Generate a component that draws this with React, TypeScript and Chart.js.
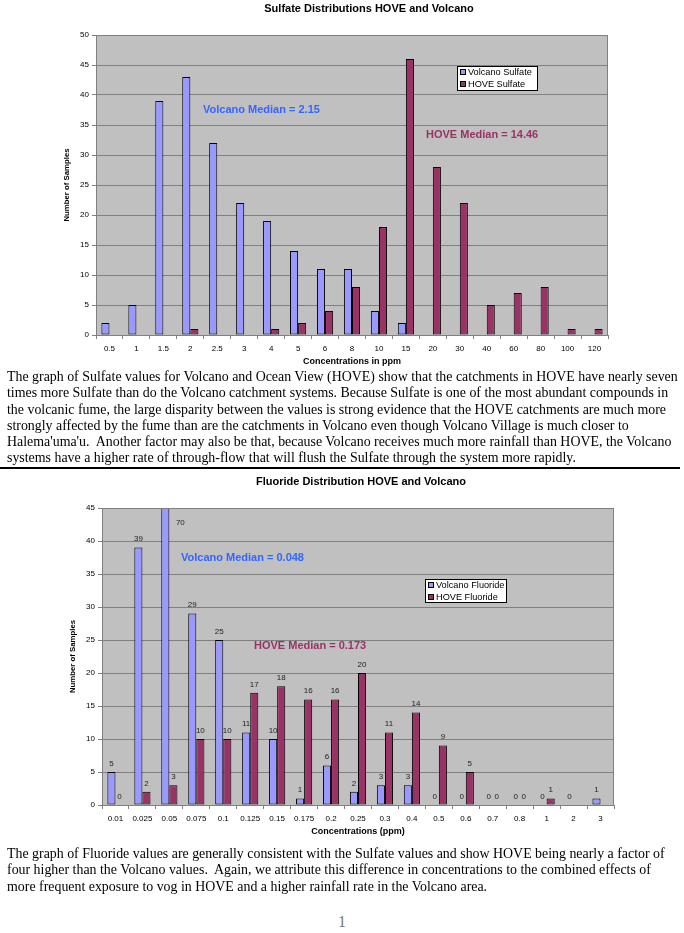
import React, { useEffect, useRef } from "react";
import { Chart, registerables } from "chart.js";
Chart.register(...registerables);

// ---------- data ----------
const sulfateCategories = ["0.5", "1", "1.5", "2", "2.5", "3", "4", "5", "6", "8", "10", "15", "20", "30", "40", "60", "80", "100", "120"];
const sulfateVolcano = [2, 5, 39, 43, 32, 22, 19, 14, 11, 11, 4, 2, 0, 0, 0, 0, 0, 0, 0];
const sulfateHove = [0, 0, 0, 1, 0, 0, 1, 2, 4, 8, 18, 46, 28, 22, 5, 7, 8, 1, 1];
const sulfateYMax = 50;

const fluorideCategories = ["0.01", "0.025", "0.05", "0.075", "0.1", "0.125", "0.15", "0.175", "0.2", "0.25", "0.3", "0.4", "0.5", "0.6", "0.7", "0.8", "1", "2", "3"];
const fluorideVolcano = [5, 39, 70, 29, 25, 11, 10, 1, 6, 2, 3, 3, 0, 0, 0, 0, 0, 0, 1];
const fluorideHove = [0, 2, 3, 10, 10, 17, 18, 16, 16, 20, 11, 14, 9, 5, 0, 0, 1, null, null];
const fluorideYMax = 45;

const yStep = 5;

const sulfateSeriesNames = ["Volcano Sulfate", "HOVE Sulfate"];
const fluorideSeriesNames = ["Volcano Fluoride", "HOVE Fluoride"];

const paragraph1 = [
  "The graph of Sulfate values for Volcano and Ocean View (HOVE) show that the catchments in HOVE have nearly seven",
  "times more Sulfate than do the Volcano catchment systems. Because Sulfate is one of the most abundant compounds in",
  "the volcanic fume, the large disparity between the values is strong evidence that the HOVE catchments are much more",
  "strongly affected by the fume than are the catchments in Volcano even though Volcano Village is much closer to",
  "Halema'uma'u.  Another factor may also be that, because Volcano receives much more rainfall than HOVE, the Volcano",
  "systems have a higher rate of through-flow that will flush the Sulfate through the system more rapidly.",
];
const paragraph2 = [
  "The graph of Fluoride values are generally consistent with the Sulfate values and show HOVE being nearly a factor of",
  "four higher than the Volcano values.  Again, we attribute this difference in concentrations to the combined effects of",
  "more frequent exposure to vog in HOVE and a higher rainfall rate in the Volcano area.",
];

// ---------- styles ----------
const VOLCANO = "#9999FF";
const HOVE = "#993366";
const BLUE_TEXT = "#3366FF";
const SANS = "'Liberation Sans', Arial, sans-serif";
const SERIF = "'Liberation Serif', 'Times New Roman', serif";

type Note = { text: string; x: number; y: number; color: string };
type Cfg = {
  title: string;
  titleX: number;
  titleY: number;
  xTitle: string;
  yTitle: string;
  legend: { x: number; y: number; w: number; h: number; labels: string[] };
  notes: Note[];
  dataLabels: boolean;
};

function makeDecor(cfg: Cfg) {
  return {
    id: "decor",
    beforeDraw(chart: any) {
      const { ctx, chartArea: a } = chart;
      ctx.save();
      ctx.fillStyle = "#C0C0C0";
      ctx.fillRect(a.left, a.top, a.right - a.left, a.bottom - a.top);
      ctx.restore();
    },
    afterDatasetsDraw(chart: any) {
      const { ctx, chartArea: a } = chart;
      ctx.save();
      ctx.strokeStyle = "#808080";
      ctx.lineWidth = 1;
      ctx.strokeRect(a.left + 0.5, a.top + 0.5, a.right - a.left - 1, a.bottom - a.top);
      if (cfg.dataLabels) {
        const yMax = chart.scales.y.max;
        ctx.font = `8px ${SANS}`;
        ctx.fillStyle = "#222";
        ctx.textAlign = "center";
        ctx.textBaseline = "middle";
        chart.data.datasets.forEach((ds: any, i: number) => {
          const meta = chart.getDatasetMeta(i);
          meta.data.forEach((el: any, j: number) => {
            const v = ds.data[j];
            if (v === null || v === undefined) return;
            if (v > yMax) {
              ctx.fillText(String(v), el.x + 15, a.top + 15);
            } else {
              ctx.fillText(String(v), el.x, el.y - 8.5);
            }
          });
        });
      }
      ctx.restore();
    },
    afterDraw(chart: any) {
      const { ctx, chartArea: a } = chart;
      ctx.save();
      // title
      ctx.fillStyle = "#000";
      ctx.textAlign = "center";
      ctx.textBaseline = "middle";
      ctx.font = `bold 11px ${SANS}`;
      ctx.fillText(cfg.title, cfg.titleX, cfg.titleY);
      // x title
      ctx.font = `bold 9px ${SANS}`;
      ctx.fillText(cfg.xTitle, (a.left + a.right) / 2, a.bottom + 26.5);
      // y title
      ctx.save();
      ctx.font = `bold 7.8px ${SANS}`;
      ctx.translate(a.left - 29, (a.top + a.bottom) / 2);
      ctx.rotate(-Math.PI / 2);
      ctx.fillText(cfg.yTitle, 0, 0);
      ctx.restore();
      // notes
      ctx.textAlign = "left";
      ctx.font = `bold 11px ${SANS}`;
      cfg.notes.forEach((n) => {
        ctx.fillStyle = n.color;
        ctx.fillText(n.text, n.x, n.y);
      });
      // legend
      const L = cfg.legend;
      ctx.fillStyle = "#fff";
      ctx.fillRect(L.x, L.y, L.w, L.h);
      ctx.strokeStyle = "#000";
      ctx.lineWidth = 1;
      ctx.strokeRect(L.x + 0.5, L.y + 0.5, L.w, L.h);
      const colors = chart.data.datasets.map((d: any) => d.backgroundColor);
      ctx.font = `9.2px ${SANS}`;
      ctx.textBaseline = "middle";
      L.labels.forEach((lab, i) => {
        const cy = L.y + 6 + i * 12;
        ctx.fillStyle = colors[i];
        ctx.fillRect(L.x + 3, cy - 3, 6, 6);
        ctx.strokeStyle = "#000";
        ctx.strokeRect(L.x + 3.5, cy - 2.5, 5, 5);
        ctx.fillStyle = "#000";
        ctx.fillText(lab, L.x + 11, cy + 0.5);
      });
      ctx.restore();
    },
  };
}

type BoxProps = {
  top: number;
  height: number;
  categories: string[];
  volcano: (number | null)[];
  hove: (number | null)[];
  names: string[];
  yMax: number;
  padding: { left: number; right: number; top: number; bottom: number };
  cfg: Cfg;
};

function ChartBox(p: BoxProps) {
  const ref = useRef<HTMLCanvasElement | null>(null);
  useEffect(() => {
    if (!ref.current) return;
    const chart = new Chart(ref.current, {
      type: "bar",
      data: {
        labels: p.categories,
        datasets: [
          {
            label: p.names[0],
            data: p.volcano,
            backgroundColor: VOLCANO,
            borderColor: "#000",
            borderWidth: 1,
            borderSkipped: false,
            categoryPercentage: 0.6,
            barPercentage: 1.0,
            clip: 0,
          } as any,
          {
            label: p.names[1],
            data: p.hove,
            backgroundColor: HOVE,
            borderColor: "#000",
            borderWidth: 1,
            borderSkipped: false,
            categoryPercentage: 0.6,
            barPercentage: 1.0,
            clip: 0,
          } as any,
        ],
      },
      options: {
        responsive: false,
        animation: false,
        devicePixelRatio: 1,
        layout: { padding: p.padding },
        plugins: { legend: { display: false }, title: { display: false }, tooltip: { enabled: false } },
        scales: {
          x: {
            afterFit: (s: any) => {
              s.height = 20;
            },
            grid: { display: true, drawOnChartArea: false, drawTicks: true, tickLength: 4, color: "#808080", offset: true },
            border: { display: true, color: "#808080" },
            ticks: { color: "#000", font: { size: 8, family: SANS }, padding: 5, maxRotation: 0, autoSkip: false },
          },
          y: {
            min: 0,
            max: p.yMax,
            afterFit: (s: any) => {
              s.width = 26;
            },
            grid: { color: "#808080", drawTicks: true, tickLength: 4 },
            border: { display: true, color: "#808080" },
            ticks: { stepSize: yStep, color: "#000", font: { size: 8, family: SANS }, padding: 3 },
          },
        },
      } as any,
      plugins: [makeDecor(p.cfg)],
    });
    return () => chart.destroy();
  }, []);
  return (
    <canvas
      ref={ref}
      width={684}
      height={p.height}
      style={{ position: "absolute", left: 0, top: p.top, width: 684, height: p.height }}
    />
  );
}

const lineStyle: React.CSSProperties = { whiteSpace: "pre", height: 16.3, lineHeight: "16.3px" };

export default function App() {
  return (
    <div style={{ position: "absolute", left: 0, top: 0, width: 684, height: 933, background: "#fff", overflow: "hidden" }}>
      <ChartBox
        top={0}
        height={370}
        categories={sulfateCategories}
        volcano={sulfateVolcano}
        hove={sulfateHove}
        names={sulfateSeriesNames}
        yMax={sulfateYMax}
        padding={{ left: 70, right: 76, top: 35, bottom: 15 }}
        cfg={{
          title: "Sulfate Distributions HOVE and Volcano",
          titleX: 369,
          titleY: 9,
          xTitle: "Concentrations in ppm",
          yTitle: "Number of Samples",
          legend: { x: 457, y: 66, w: 80, h: 24, labels: sulfateSeriesNames },
          notes: [
            { text: "Volcano Median = 2.15", x: 203, y: 110, color: BLUE_TEXT },
            { text: "HOVE Median = 14.46", x: 426, y: 135, color: HOVE },
          ],
          dataLabels: false,
        }}
      />
      <div style={{ position: "absolute", left: 7, top: 369, fontFamily: SERIF, fontSize: 13.9, color: "#000" }}>
        {paragraph1.map((l, i) => (
          <div key={i} style={lineStyle}>{l}</div>
        ))}
      </div>
      <div style={{ position: "absolute", left: 0, top: 467, width: 680, height: 1.5, background: "#000" }} />
      <ChartBox
        top={470}
        height={370}
        categories={fluorideCategories}
        volcano={fluorideVolcano}
        hove={fluorideHove}
        names={fluorideSeriesNames}
        yMax={fluorideYMax}
        padding={{ left: 76, right: 70, top: 38, bottom: 15 }}
        cfg={{
          title: "Fluoride Distribution HOVE and Volcano",
          titleX: 361,
          titleY: 12,
          xTitle: "Concentrations (ppm)",
          yTitle: "Number of Samples",
          legend: { x: 425, y: 109, w: 81, h: 23, labels: fluorideSeriesNames },
          notes: [
            { text: "Volcano Median = 0.048", x: 181, y: 88, color: BLUE_TEXT },
            { text: "HOVE Median = 0.173", x: 254, y: 176, color: HOVE },
          ],
          dataLabels: true,
        }}
      />
      <div style={{ position: "absolute", left: 7, top: 846, fontFamily: SERIF, fontSize: 13.9, color: "#000" }}>
        {paragraph2.map((l, i) => (
          <div key={i} style={lineStyle}>{l}</div>
        ))}
      </div>
      <div style={{ position: "absolute", left: 0, width: 684, top: 912, textAlign: "center", fontFamily: SERIF, fontSize: 16, color: "#777", lineHeight: "20px" }}>
        1
      </div>
    </div>
  );
}
